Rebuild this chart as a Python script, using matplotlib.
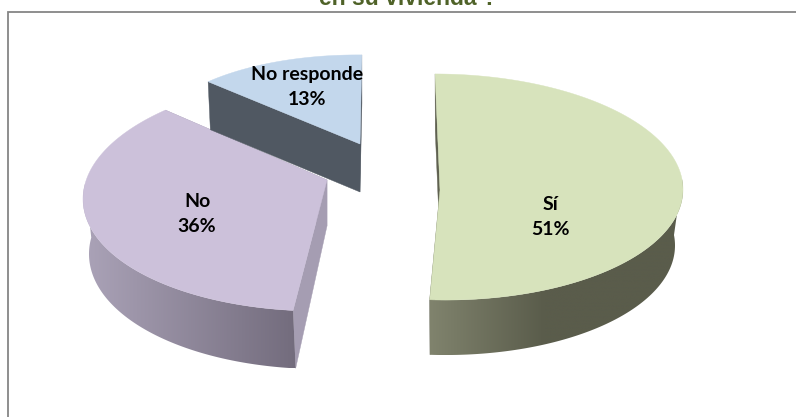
import numpy as np
import matplotlib
matplotlib.use('Agg')
import matplotlib.pyplot as plt
from matplotlib.patches import Polygon

W, H = 796, 417

categories = ['Sí', 'No', 'No responde']
values = [51, 36, 13]
title = 'en su vivienda ?'

top_colors = ['#D7E3BC', '#CCC1DA', '#C3D7EC']
cut_colors = ['#5F6150', '#A59DB2', '#505862']
# wall shading, left to right along the front edge
wall_left = ['#80836D', '#ABA3B8', '#505862']
wall_right = ['#5A5C4B', '#736C7D', '#505862']
# wall colour stops at this share of the way across (Sí goes flat past the middle)
wall_stop = [0.45, 1.0, 1.0]

# ellipse of each slice in pixels: cx, cy, rx, ry, skew x, skew y
top_shape = [(440, 187, 243, 113, 1, 3),
             (330, 194, 247, 117, 0, -5),
             (360, 144, 210, 89, 7, 4)]
bottom_shape = [(440, 243, 235, 112, 1, 3),
                (332, 249, 243, 120, 0, -5),
                (360, 192, 207, 89, 7, 4)]
apex_top = [(440, 190), (327, 180), (360, 144)]
apex_bottom = [(440, 243), (327, 226), (360, 192)]
# perspective turns the exploded slice a bit
angle_shift = [0, 6.4, 0]
label_pos = [(550, 217), (197, 214), (307, 87)]

START_DEG = -1.4


def ring(shape, deg):
    cx, cy, rx, ry, sx, sy = shape
    t = np.radians(deg)
    u, v = np.sin(t), np.cos(t)
    return np.column_stack([cx + rx * u + sx * v, cy - ry * v + sy * u])


fig = plt.figure(figsize=(W / 100, H / 100), dpi=100)
ax = fig.add_axes([0, 0, 1, 1])
ax.axis('off')

# chart frame, only top and left show up
ax.plot([W, 8, 8], [11.5, 11.5, H], color='#868686', lw=1.3, solid_joinstyle='miter', zorder=1)

ends = START_DEG + np.cumsum(values) * 3.6
starts = np.concatenate([[START_DEG], ends[:-1]])

# blue first, it is the furthest back
for i in [2, 0, 1]:
    deg = np.linspace(starts[i], ends[i], 200) + angle_shift[i]
    top = ring(top_shape[i], deg)
    bot = ring(bottom_shape[i], deg)
    apex = np.array(apex_top[i])
    apex_b = np.array(apex_bottom[i], dtype=float)

    # cut faces
    for j in [0, -1]:
        ax.add_patch(Polygon([apex, top[j], bot[j], apex_b], color=cut_colors[i], lw=0.3, zorder=2 + i))

    # outer wall, only the part turned towards the viewer, as a gradient clipped to its outline
    vis = (deg > 84) & (deg < 278)
    if vis.any():
        outline = np.vstack([top[vis], bot[vis][::-1]])
        x0, x1 = outline[:, 0].min(), outline[:, 0].max()
        y0, y1 = outline[:, 1].min(), outline[:, 1].max()
        f = np.clip(np.linspace(0, 1, 256) / wall_stop[i], 0, 1)[None, :, None]
        c1 = np.array(matplotlib.colors.to_rgb(wall_left[i]))
        c2 = np.array(matplotlib.colors.to_rgb(wall_right[i]))
        wall = Polygon(outline, facecolor='none', edgecolor='none', transform=ax.transData)
        ax.add_patch(wall)
        im = ax.imshow(c1 + (c2 - c1) * f, extent=(x0, x1, y1, y0), aspect='auto', zorder=2 + i,
                       interpolation='bilinear')
        im.set_clip_path(wall)

    ax.add_patch(Polygon(np.vstack([apex, top]), color=top_colors[i], lw=0.3, zorder=2 + i))

ax.set_xlim(0, W)
ax.set_ylim(H, 0)

for name, val, (x, y) in zip(categories, values, label_pos):
    ax.text(x, y, f'{name}\n{val}%', ha='center', va='center', fontsize=14, fontweight='bold',
            family='Lato', color='black', linespacing=1.55, zorder=10)

ax.text(408, 5, title, ha='center', va='baseline', fontsize=16.5, fontweight='bold',
        family='Liberation Sans', color='#4F6228', zorder=10)

plt.savefig('out.png', dpi=100)
plt.close()
